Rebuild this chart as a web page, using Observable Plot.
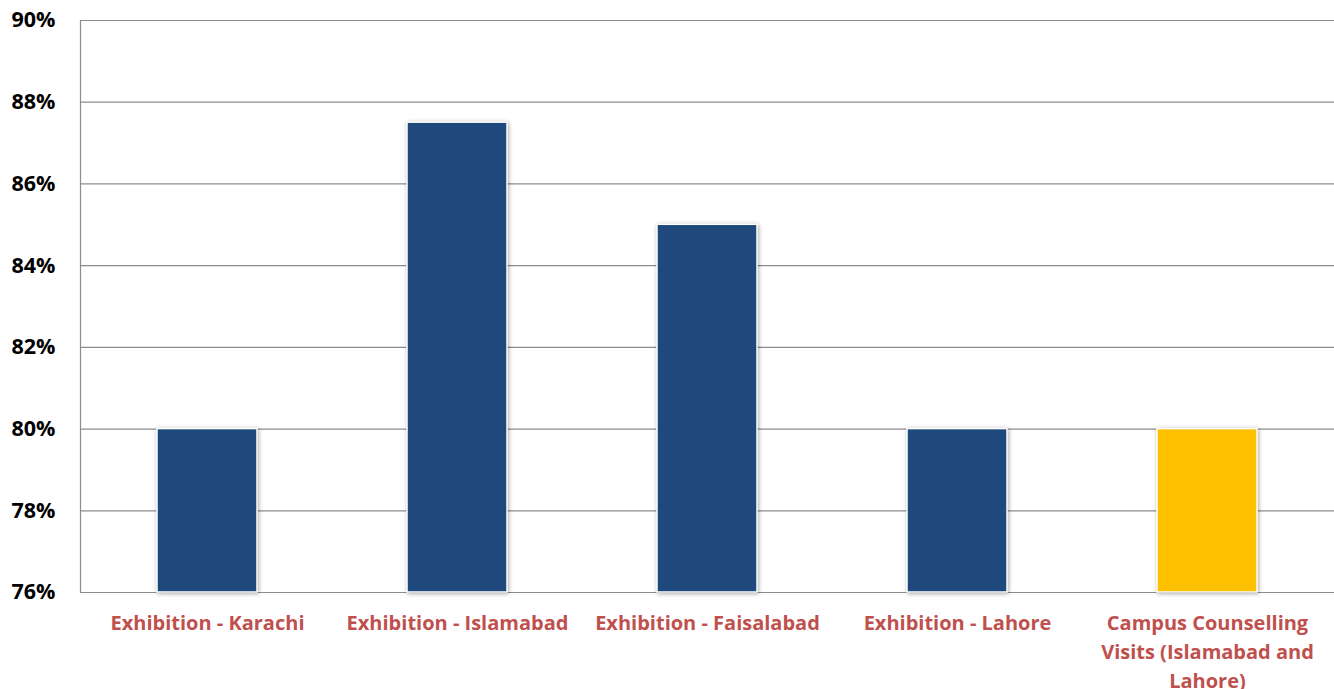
<!DOCTYPE html>
<html>
<head>
<meta charset="utf-8">
<script src="https://cdn.jsdelivr.net/npm/d3@7"></script>
<script src="https://cdn.jsdelivr.net/npm/@observablehq/plot@0.6"></script>
<style>
  html, body { margin: 0; padding: 0; background: #fff; }
  .bars rect { filter: drop-shadow(1px 1px 2px rgba(0,0,0,0.35)); }
</style>
</head>
<body>
<div id="chart"></div>
<script>
const categories = [
  "Exhibition - Karachi",
  "Exhibition - Islamabad",
  "Exhibition - Faisalabad",
  "Exhibition - Lahore",
  "Campus Counselling Visits (Islamabad and Lahore)"
];
const labels = [
  "Exhibition - Karachi",
  "Exhibition - Islamabad",
  "Exhibition - Faisalabad",
  "Exhibition - Lahore",
  "Campus Counselling\nVisits (Islamabad and\nLahore)"
];
const values = [80, 87.5, 85, 80, 80];
const barColors = ["#1f497d", "#1f497d", "#1f497d", "#1f497d", "#ffc000"];
const yTicks = [76, 78, 80, 82, 84, 86, 88, 90];

const data = categories.map((c, i) => ({cat: c, label: labels[i], value: values[i], color: barColors[i]}));
const labelOf = new Map(categories.map((c, i) => [c, labels[i]]));

const chart = Plot.plot({
  width: 1334,
  height: 689,
  marginLeft: 80,
  marginRight: 0,
  marginTop: 20,
  marginBottom: 97,
  style: {fontFamily: "'Open Sans', Lato, sans-serif", background: "#fff"},
  x: {domain: categories, paddingInner: 0.6, paddingOuter: 0.3},
  y: {domain: [76, 90]},
  marks: [
    Plot.gridY(yTicks, {stroke: "#8c8c8c", strokeOpacity: 1, strokeWidth: 1.2}),
    Plot.frame({anchor: "left", stroke: "#8c8c8c", strokeWidth: 1.2, strokeOpacity: 1}),
    Plot.barY(data, {
      x: "cat", y1: () => 76, y2: "value",
      fill: "color", stroke: "#fff", strokeWidth: 1.5,
      className: "bars"
    }),
    Plot.axisY(yTicks, {
      tickSize: 0, tickPadding: 25,
      tickFormat: d => d + "%",
      fontSize: 21.5, fontWeight: "bold", fill: "#000", label: null
    }),
    Plot.axisX({
      tickSize: 0, tickPadding: 17,
      tickFormat: d => labelOf.get(d),
      fontSize: 20, fontWeight: "bold", fill: "#c0504d",
      lineHeight: 1.45, label: null
    })
  ]
});
document.getElementById("chart").appendChild(chart);
</script>
</body>
</html>
